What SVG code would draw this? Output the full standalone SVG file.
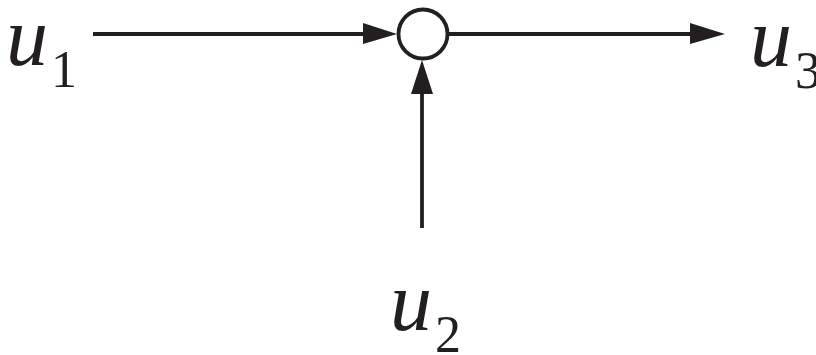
<svg xmlns="http://www.w3.org/2000/svg" width="816" height="355" viewBox="0 0 816 355">
<style>
.ln{stroke:#231f20;stroke-width:3.8;fill:none}
.ah{fill:#231f20}
.v{font-family:"Liberation Serif",serif;font-style:italic;font-size:84px;fill:#231f20}
.s{font-family:"Liberation Serif",serif;font-size:52px;fill:#231f20}
</style>
<rect width="816" height="355" fill="#fff"/>
<g id="connectors">
<line class="ln" x1="93" y1="34" x2="368" y2="34"/>
<polygon class="ah" points="363,23 397,34 363,44"/>
<line class="ln" x1="449" y1="34" x2="695" y2="34"/>
<polygon class="ah" points="690,23 725,34 690,44"/>
<line class="ln" x1="422" y1="228" x2="422" y2="86"/>
<polygon class="ah" points="411,94 422,60 433,94"/>
</g>
<g id="junction">
<circle cx="423" cy="34" r="24.5" fill="#fff" stroke="#231f20" stroke-width="3.8"/>
</g>
<g id="u1">
<text class="v" x="6" y="65">u</text><text class="s" x="51" y="87">1</text>
</g>
<g id="u3">
<text class="v" x="750" y="66">u</text><text class="s" x="795" y="88">3</text>
</g>
<g id="u2">
<text class="v" x="390" y="330">u</text><text class="s" x="435" y="352">2</text>
</g>
</svg>
